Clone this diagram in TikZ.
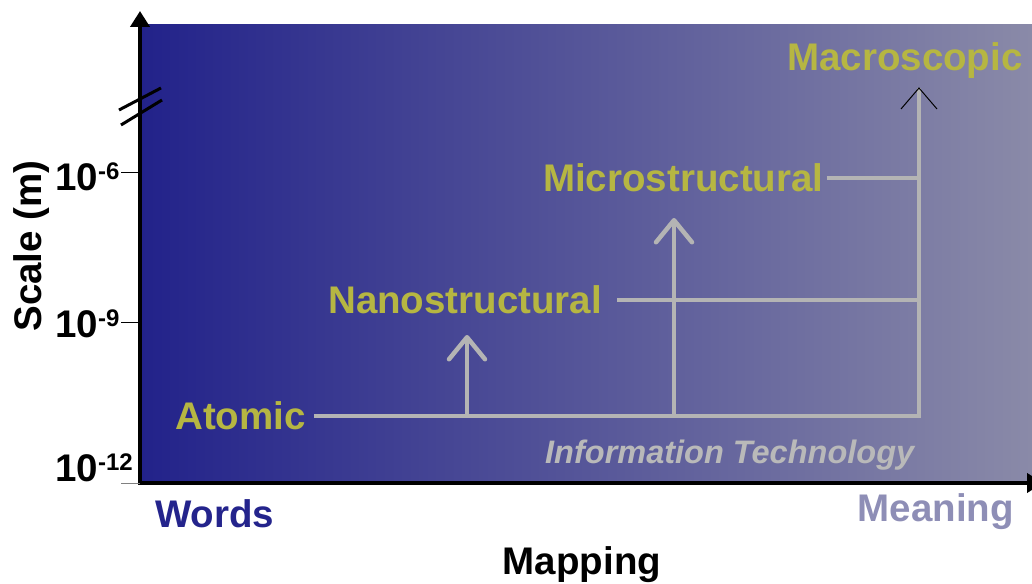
\documentclass[tikz,border=0pt]{standalone}
\usepackage{fontspec}
\setmainfont{Liberation Sans}
\usetikzlibrary{arrows.meta}
\definecolor{bgL}{RGB}{34,34,138}
\definecolor{bgR}{RGB}{138,138,168}
\definecolor{lvl}{RGB}{182,182,66}
\definecolor{ln}{RGB}{180,180,180}
\definecolor{wordc}{RGB}{36,36,140}
\definecolor{meanc}{RGB}{142,142,182}
\definecolor{itc}{RGB}{185,185,185}
\begin{document}
\begin{tikzpicture}[x=1pt,y=-1pt,
  big/.style={font=\fontsize{38.5}{40}\selectfont\bfseries, inner sep=0pt, anchor=base west},
  lvltxt/.style={big, text=lvl},
  conn/.style={draw=ln, line width=4.5pt},
  upar/.style={conn, -{Straight Barb[length=22pt,width=36pt,round]}},
  axisline/.style={line width=4pt, -{Triangle[length=16pt,width=19pt]}},
  tickline/.style={line width=1pt},
  breakline/.style={line width=3pt}
]
\useasboundingbox (0,0) rectangle (1032,583);
\shade[left color=bgL,right color=bgR] (140,25) rectangle (1032,483);

% axes
\coordinate (o) at (140,483);
\coordinate (ytop) at (140,11);
\coordinate (xend) at (1043,483);
\draw[axisline] ([yshift=2pt]o) -- (ytop);
\draw[axisline] ([xshift=-2pt]o) -- (xend);

% axis break
\draw[breakline] (119,110) -- (161,88);
\draw[breakline] (121,125) -- (162,100);

% ticks
\coordinate (k6) at (140,172);
\coordinate (k9) at (140,322);
\coordinate (k12) at (140,483);
\draw[tickline] ([xshift=-19pt]k6) -- (k6);
\draw[tickline] ([xshift=-19pt]k9) -- (k9);
\draw[tickline,draw=gray] ([xshift=-19pt]k12) -- (k12);
\node[big] (t6) at (55,190) {10\raisebox{11pt}{\fontsize{24}{24}\selectfont\bfseries -6}};
\node[big] (t9) at (55,337) {10\raisebox{11pt}{\fontsize{24}{24}\selectfont\bfseries -9}};
\node[big] (t12) at (55,481) {10\raisebox{11pt}{\fontsize{24}{24}\selectfont\bfseries -12}};

% axis titles
\node[big, anchor=base, rotate=90] (scale) at (41,246) {Scale (m)};
\node[big, anchor=base, text=black] (mapping) at (582,574) {Mapping};
\node[big, text=wordc] (words) at (155,527) {Words};
\node[big, text=meanc, anchor=base east] (meaning) at (1014,521) {Meaning};

% levels
\node[lvltxt] (atomic) at (175,429) {Atomic};
\node[lvltxt] (nano) at (328,313) {Nanostructural};
\node[lvltxt] (micro) at (543,191) {Microstructural};
\node[lvltxt] (macro) at (787,71) {Macroscopic};
\node[font=\fontsize{32.5}{34}\selectfont\bfseries\itshape, text=itc, inner sep=0pt, anchor=base west] (it) at (545,463) {Information Technology};

% connectors
\coordinate (aR) at (919,416);
\coordinate (mtop) at (919,88);
\coordinate (nb) at (467,416);
\coordinate (nt) at (467,335);
\coordinate (mb) at (674,416);
\coordinate (mt) at (674,218);
\coordinate (nR) at (919,300);
\coordinate (uR) at (919,178);
\draw[conn, line join=miter] ([xshift=8pt]atomic.east |- aR) -- (aR) -- (mtop);
\draw[upar] (nb) -- (nt);
\draw[upar] (mb) -- (mt);
\draw[conn] ([xshift=15pt]nano.east |- nR) -- (nR);
\draw[conn] ([xshift=3pt]micro.east |- uR) -- (uR);
\draw[line width=1pt] ([shift={(-18,21)}]mtop) -- (mtop) -- ([shift={(18,21)}]mtop);
\end{tikzpicture}
\end{document}
